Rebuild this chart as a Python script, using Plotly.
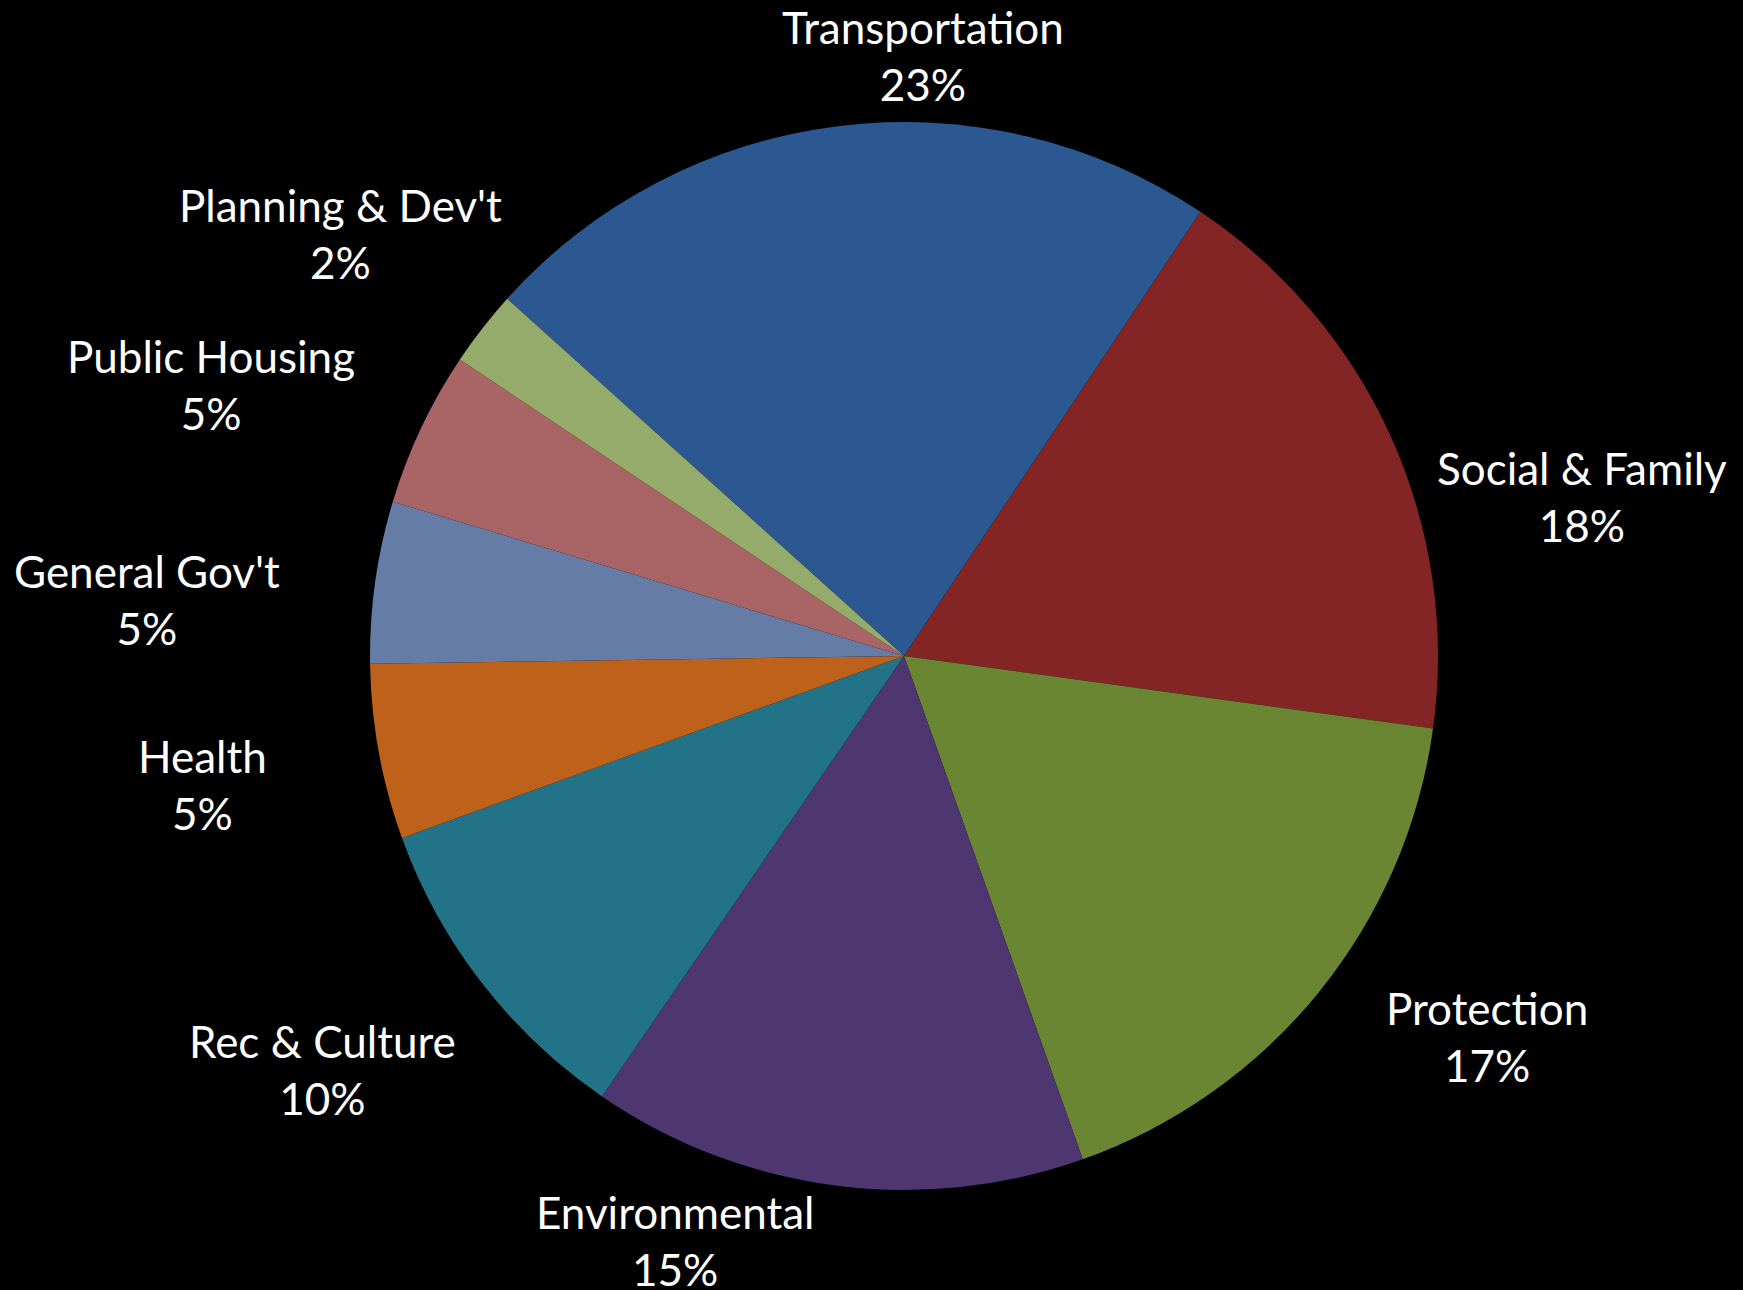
import plotly.graph_objects as go

# Spending by function (share of total budget, %)
categories = [
    "Transportation",
    "Social & Family",
    "Protection",
    "Environmental",
    "Rec & Culture",
    "Health",
    "General Gov't",
    "Public Housing",
    "Planning & Dev't",
]
values = [22.7, 17.8, 17.4, 15.0, 9.9, 5.3, 4.9, 4.7, 2.3]

slice_colors = [
    "#2B5890", "#832525", "#6A8632", "#4E3670", "#237388",
    "#BE621B", "#647CA6", "#A96565", "#95AB6C",
]

# label anchor points in figure pixels (x, y from top)
label_xy = [
    (923, 56), (1582, 496), (1487, 1036), (675, 1240), (322, 1069),
    (202, 784), (147, 600), (211, 385), (340, 233),
]

W, H = 1743, 1290
cx, cy, r = 904, 656, 534

fig = go.Figure(
    go.Pie(
        labels=categories,
        values=values,
        sort=False,
        direction="clockwise",
        rotation=-48,
        textinfo="none",
        marker=dict(colors=slice_colors, line=dict(width=0)),
        domain=dict(
            x=[(cx - r) / W, (cx + r) / W],
            y=[(H - cy - r) / H, (H - cy + r) / H],
        ),
        showlegend=False,
    )
)

total = sum(values)
for name, v, (px, py) in zip(categories, values, label_xy):
    pct = round(v / total * 100)
    fig.add_annotation(
        x=px / W, y=1 - py / H, xref="paper", yref="paper",
        text=f"{name}<br>{pct}%", showarrow=False,
        xanchor="center", yanchor="middle", align="center",
        font=dict(family="Lato", size=44, color="white"),
    )

fig.update_layout(
    width=W, height=H,
    margin=dict(l=0, r=0, t=0, b=0),
    paper_bgcolor="black", plot_bgcolor="black",
)

fig.write_html("out.html")
